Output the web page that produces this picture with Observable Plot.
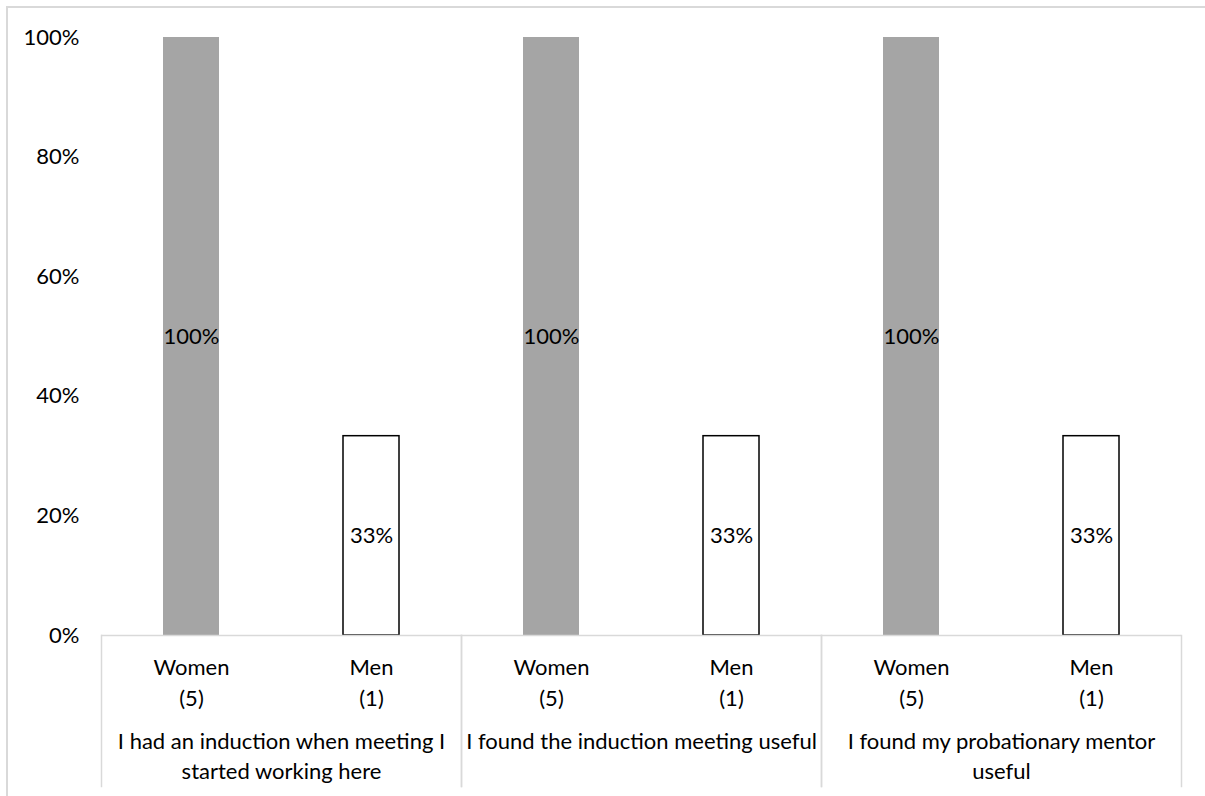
<!DOCTYPE html>
<html>
<head>
<meta charset="utf-8">
<script src="https://cdn.jsdelivr.net/npm/d3@7"></script>
<script src="https://cdn.jsdelivr.net/npm/@observablehq/plot@0.6"></script>
<style>
  html, body { margin: 0; padding: 0; background: #fff; overflow: hidden; width: 1205px; height: 796px; }
  #chart { position: absolute; left: 0; top: 0; }
  #border { position: absolute; left: 6px; top: 6px; width: 1300px; height: 900px; border: 2px solid #d9d9d9; pointer-events: none; box-sizing: border-box; }
</style>
</head>
<body>
<div id="chart"></div>
<div id="border"></div>
<script>
const questions = [
  "I had an induction when meeting I started working here",
  "I found the induction meeting useful",
  "I found my probationary mentor useful"
];
const questionLabels = [
  "I had an induction when meeting I\nstarted working here",
  "I found the induction meeting useful",
  "I found my probationary mentor\nuseful"
];
const genders = ["Women", "Men"];
const respondents = [5, 1];
const womenValues = [1, 1, 1];
const menValues = [0.3333, 0.3333, 0.3333];
const yTicks = [0, 0.2, 0.4, 0.6, 0.8, 1];

const rows = questions.flatMap((q, i) => [
  {q, gender: "Women", value: womenValues[i]},
  {q, gender: "Men", value: menValues[i]}
]);
const pct = d3.format(".0%");
const FS = 22;

const chart = Plot.plot({
  width: 1205,
  height: 796,
  marginTop: 37,
  marginBottom: 161,
  marginLeft: 100,
  marginRight: 23,
  style: {fontFamily: "Lato, 'Open Sans', sans-serif", fontSize: FS + "px", color: "#000", background: "transparent"},
  fx: {domain: questions, padding: 0},
  x: {domain: genders, padding: 0},
  y: {domain: [0, 1]},
  marks: [
    Plot.barY(rows.filter(d => d.gender === "Women"), {
      fx: "q", x: "gender", y: "value", fill: "#a5a5a5", insetLeft: 62, insetRight: 62
    }),
    Plot.barY(rows.filter(d => d.gender === "Men"), {
      fx: "q", x: "gender", y: "value", fill: "#fff", stroke: "#000", strokeWidth: 1.5, insetLeft: 62, insetRight: 62
    }),
    Plot.ruleY([0], {stroke: "#d9d9d9", strokeWidth: 1.5}),
    Plot.frame({anchor: "left", stroke: "#d9d9d9", strokeWidth: 1.5, insetTop: 598, insetBottom: -151}),
    Plot.frame({anchor: "right", stroke: "#d9d9d9", strokeWidth: 1.5, insetTop: 598, insetBottom: -151}),
    Plot.text(rows, {
      fx: "q", x: "gender", y: d => d.value / 2, text: d => pct(d.value), fontSize: FS, fill: "#000"
    }),
    Plot.axisY(yTicks, {tickSize: 0, tickPadding: 22, tickFormat: pct, fontSize: FS, label: null}),
    Plot.axisX({
      tickSize: 0, tickPadding: 17, fontSize: FS, lineHeight: 1.41, label: null,
      tickFormat: g => `${g}\n(${respondents[genders.indexOf(g)]})`
    }),
    Plot.axisFx({
      anchor: "bottom", tickSize: 0, tickPadding: 92, fontSize: FS, lineHeight: 1.38, label: null,
      tickFormat: q => questionLabels[questions.indexOf(q)]
    })
  ]
});
document.getElementById("chart").appendChild(chart);
</script>
</body>
</html>
